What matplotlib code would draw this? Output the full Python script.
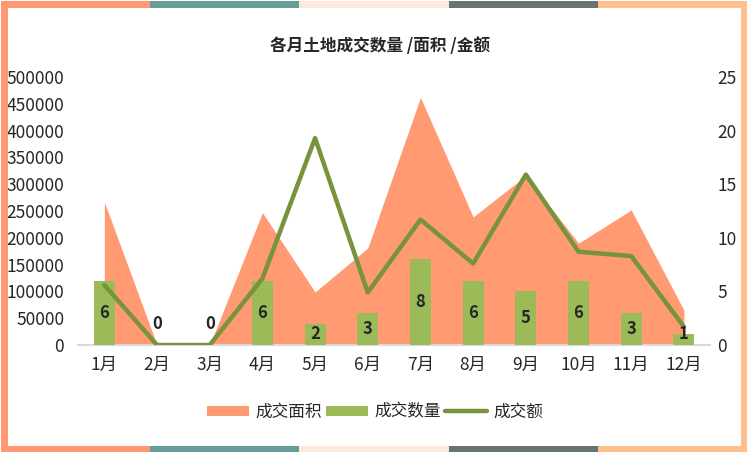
import numpy as np
import matplotlib.pyplot as plt
from matplotlib.patches import Rectangle

plt.rcParams['font.family'] = ['Noto Sans CJK SC', 'DejaVu Sans']

months = ['1月', '2月', '3月', '4月', '5月', '6月', '7月', '8月', '9月', '10月', '11月', '12月']
area = [267000, 0, 0, 247000, 99000, 181000, 462000, 239000, 316000, 190000, 252000, 65000]
count = [6, 0, 0, 6, 2, 3, 8, 6, 5, 6, 3, 1]
amount = [5.6, 0, 0, 6.2, 19.3, 4.9, 11.7, 7.6, 15.9, 8.7, 8.3, 1.7]

c_area = '#FF9A73'
c_bar = '#9BBB59'
c_line = '#77933C'
c_text = '#262626'

fig = plt.figure(figsize=(7.5, 4.57), dpi=100)
ax = fig.add_axes([0.104, 0.245, 0.843, 0.5865])
ax2 = ax.twinx()

x = np.arange(len(months))
ax.fill_between(x, 0, area, color=c_area, linewidth=0, label='成交面积')
ax.set_ylim(0, 500000)
ax.set_xlim(-0.5, 11.5)
ax.set_yticks(range(0, 500001, 50000))

bars = ax2.bar(x, count, width=0.4, color=c_bar, label='成交数量', zorder=2)
ln, = ax2.plot(x, amount, color=c_line, linewidth=3.2, solid_capstyle='round',
               label='成交额', zorder=3)
ax2.set_ylim(0, 25)
ax2.set_yticks(range(0, 26, 5))

for xi, v in zip(x, count):
    y = v / 2 if v > 0 else 2
    if v == 1:
        y = 1
    ax2.text(xi, y, str(v), ha='center', va='center', fontsize=12,
             fontweight='bold', color=c_text, zorder=4)

ax.set_xticks(x)
ax.set_xticklabels(months)
for a in (ax, ax2):
    for s in a.spines.values():
        s.set_visible(False)
    a.tick_params(length=0, labelsize=12.5, colors=c_text)
ax.tick_params(axis='x', pad=8)
ax.tick_params(axis='y', pad=10)
ax2.tick_params(axis='y', pad=5)
ax.spines['bottom'].set_visible(True)
ax.spines['bottom'].set_color('#D9D9D9')
ax.spines['bottom'].set_linewidth(1.5)
ax2.set_zorder(ax.get_zorder() + 1)

fig.text(0.507, 0.9, '各月土地成交数量 /面积 /金额', ha='center', va='center',
         fontsize=12, fontweight='bold', color=c_text)

h1, l1 = ax.get_legend_handles_labels()
fig.legend(h1 + [bars, ln], l1 + ['成交数量', '成交额'], loc='center',
           bbox_to_anchor=(0.5, 0.098), ncol=3,
           frameon=False, fontsize=12, handlelength=2.5, handleheight=0.6,
           handletextpad=0.4, columnspacing=0.25, labelcolor=c_text)

# coloured frame
W, H = 750, 457
t = 6.5
seg_colors = ['#FF9872', '#679C9A', '#FDE8DC', '#667472', '#FEBF8C']
top, bot = 1, 452
for i, c in enumerate(seg_colors):
    x0 = 1 + i * 149.2
    fig.patches.append(Rectangle((x0 / W, 1 - (top + t) / H), 149.2 / W, t / H,
                                 transform=fig.transFigure, color=c, lw=0))
    fig.patches.append(Rectangle((x0 / W, 1 - bot / H), 149.2 / W, t / H,
                                 transform=fig.transFigure, color=c, lw=0))
fig.patches.append(Rectangle((1 / W, 1 - bot / H), t / W, (bot - top) / H,
                             transform=fig.transFigure, color=seg_colors[0], lw=0))
fig.patches.append(Rectangle(((747 - t) / W, 1 - bot / H), t / W, (bot - top) / H,
                             transform=fig.transFigure, color=seg_colors[-1], lw=0))

fig.savefig('out.png', dpi=100)
